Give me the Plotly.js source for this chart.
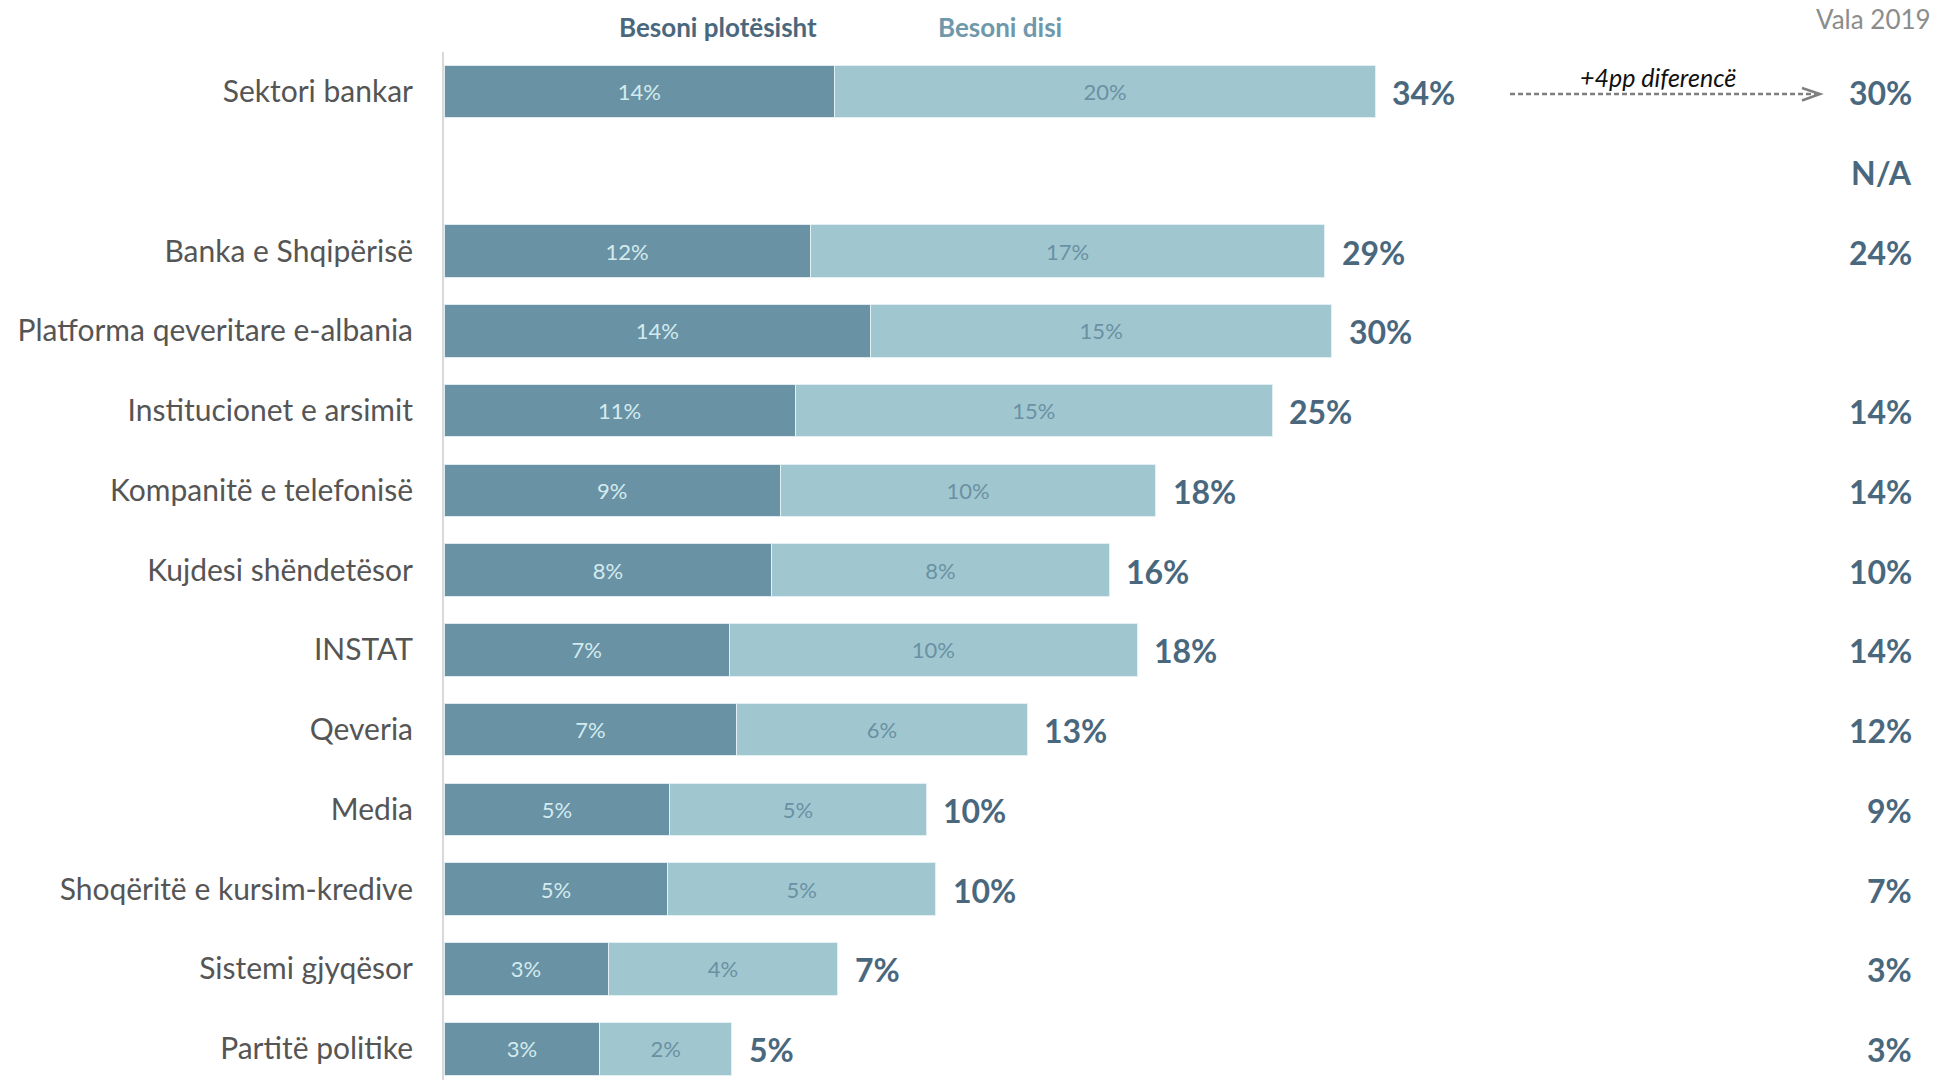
<!DOCTYPE html>
<html>
<head>
<meta charset="utf-8">
<script src="https://cdn.plot.ly/plotly-3.0.1.min.js"></script>
<style>html,body{margin:0;padding:0;background:#fff;}#chart{width:1939px;height:1080px;}</style>
</head>
<body>
<div id="chart"></div>
<script>
// ---- data (bar lengths; labels as printed) ----
const categories = ['Sektori bankar', ' ', 'Banka e Shqipërisë', 'Platforma qeveritare e-albania',
  'Institucionet e arsimit', 'Kompanitë e telefonisë', 'Kujdesi shëndetësor', 'INSTAT', 'Qeveria',
  'Media', 'Shoqëritë e kursim-kredive', 'Sistemi gjyqësor', 'Partitë politike'];
const besoniPlotesisht = [14.26, null, 13.36, 15.57, 12.82, 12.27, 11.96, 10.41, 10.69, 8.24, 8.17, 5.99, 5.69];
const besoniDisi       = [19.73, null, 18.79, 16.83, 17.41, 13.71, 12.31, 14.90, 10.59, 9.36, 9.77, 8.38, 4.81];
const labelsPlotesisht = ['14%', '', '12%', '14%', '11%', '9%', '8%', '7%', '7%', '5%', '5%', '3%', '3%'];
const labelsDisi       = ['20%', '', '17%', '15%', '15%', '10%', '8%', '10%', '6%', '5%', '5%', '4%', '2%'];
const totalLabels      = ['34%', '', '29%', '30%', '25%', '18%', '16%', '18%', '13%', '10%', '10%', '7%', '5%'];
const vala2019         = ['30%', 'N/A', '24%', '', '14%', '14%', '10%', '14%', '12%', '9%', '7%', '3%', '3%'];
const seriesNames = ['Besoni plotësisht', 'Besoni disi'];
const headerText = 'Vala 2019';
const diffText = '+4pp diferencë';

// ---- styling ----
const FONT = 'Lato, "Open Sans", sans-serif';
const DARK = '#6992a4';
const LIGHT = '#a0c7d0';
const TEXTDARK = '#4a687d';
const W = 1939, H = 1080, L = 444, T = 52;
const PW = W - L, PH = H - T;
const px2x = p => (p - L) / PW;        // paper x from pixel
const py2y = p => (H - p) / PH;        // paper y from pixel

const traces = [
  {
    type: 'bar', orientation: 'h', name: seriesNames[0],
    y: categories, x: besoniPlotesisht, text: labelsPlotesisht,
    texttemplate: '%{text}', textposition: 'inside', insidetextanchor: 'middle',
    constraintext: 'none',
    textfont: {family: FONT, size: 22, color: '#d3ebef'},
    marker: {color: DARK, line: {color: '#dfe9ee', width: 1}},
    hoverinfo: 'skip'
  },
  {
    type: 'bar', orientation: 'h', name: seriesNames[1],
    y: categories, x: besoniDisi, text: labelsDisi,
    texttemplate: '%{text}', textposition: 'inside', insidetextanchor: 'middle',
    constraintext: 'none',
    textfont: {family: FONT, size: 22, color: '#6a91a3'},
    marker: {color: LIGHT, line: {color: '#e3f0f3', width: 1}},
    hoverinfo: 'skip'
  }
];

const annotations = [];
categories.forEach((c, i) => {
  if (besoniPlotesisht[i] != null) {
    annotations.push({
      x: besoniPlotesisht[i] + besoniDisi[i], y: c, xref: 'x', yref: 'y',
      text: '<b>' + totalLabels[i] + '</b>', showarrow: false,
      xanchor: 'left', yanchor: 'middle', xshift: 15, yshift: -1,
      font: {family: FONT, size: 32, color: TEXTDARK}
    });
  }
  if (vala2019[i]) {
    annotations.push({
      x: px2x(1914), y: c, xref: 'paper', yref: 'y',
      text: '<b>' + vala2019[i] + '</b>', showarrow: false,
      xanchor: 'right', yanchor: 'middle', yshift: -1,
      font: {family: FONT, size: 32, color: TEXTDARK}
    });
  }
});
annotations.push(
  {x: px2x(718), y: py2y(27), xref: 'paper', yref: 'paper', text: '<b>' + seriesNames[0] + '</b>',
   showarrow: false, xanchor: 'center', yanchor: 'middle', font: {family: FONT, size: 26, color: '#4a687d'}},
  {x: px2x(1000), y: py2y(27), xref: 'paper', yref: 'paper', text: '<b>' + seriesNames[1] + '</b>',
   showarrow: false, xanchor: 'center', yanchor: 'middle', font: {family: FONT, size: 26, color: '#6f98aa'}},
  {x: px2x(1933), y: py2y(19), xref: 'paper', yref: 'paper', text: headerText,
   showarrow: false, xanchor: 'right', yanchor: 'middle', font: {family: FONT, size: 26, color: '#8c8c8c'}},
  {x: px2x(1658), y: py2y(77), xref: 'paper', yref: 'paper', text: '<i>' + diffText + '</i>',
   showarrow: false, xanchor: 'center', yanchor: 'middle', font: {family: FONT, size: 25, color: '#111111'}}
);

const shapes = [
  {type: 'line', xref: 'paper', yref: 'paper', x0: px2x(1510), x1: px2x(1818), y0: py2y(94), y1: py2y(94),
   line: {color: '#7f7f7f', width: 2.5, dash: '5px,3px'}},
  {type: 'path', xref: 'paper', yref: 'paper',
   path: 'M ' + px2x(1802) + ' ' + py2y(88) + ' L ' + px2x(1820) + ' ' + py2y(94) + ' L ' + px2x(1802) + ' ' + py2y(100.5),
   line: {color: '#7f7f7f', width: 2.5}}
];

const layout = {
  width: W, height: H,
  margin: {l: L, r: 0, t: T, b: 0, pad: 0},
  paper_bgcolor: '#ffffff', plot_bgcolor: '#ffffff',
  barmode: 'stack', bargap: 0.34,
  showlegend: false,
  font: {family: FONT},
  xaxis: {range: [0, PW / 27.4], showgrid: false, zeroline: false, showline: false,
          showticklabels: false, ticks: '', fixedrange: true},
  yaxis: {type: 'category', categoryorder: 'array', categoryarray: categories,
          range: [12.392, -0.495], autorange: false,
          showgrid: false, zeroline: false, showline: true, linecolor: '#d9d9d9', linewidth: 2,
          ticks: '', ticklabelstandoff: 23,
          tickfont: {family: FONT, size: 30, color: '#555555'}, fixedrange: true},
  annotations: annotations,
  shapes: shapes
};

Plotly.newPlot('chart', traces, layout, {displayModeBar: false, staticPlot: true});
</script>
</body>
</html>
